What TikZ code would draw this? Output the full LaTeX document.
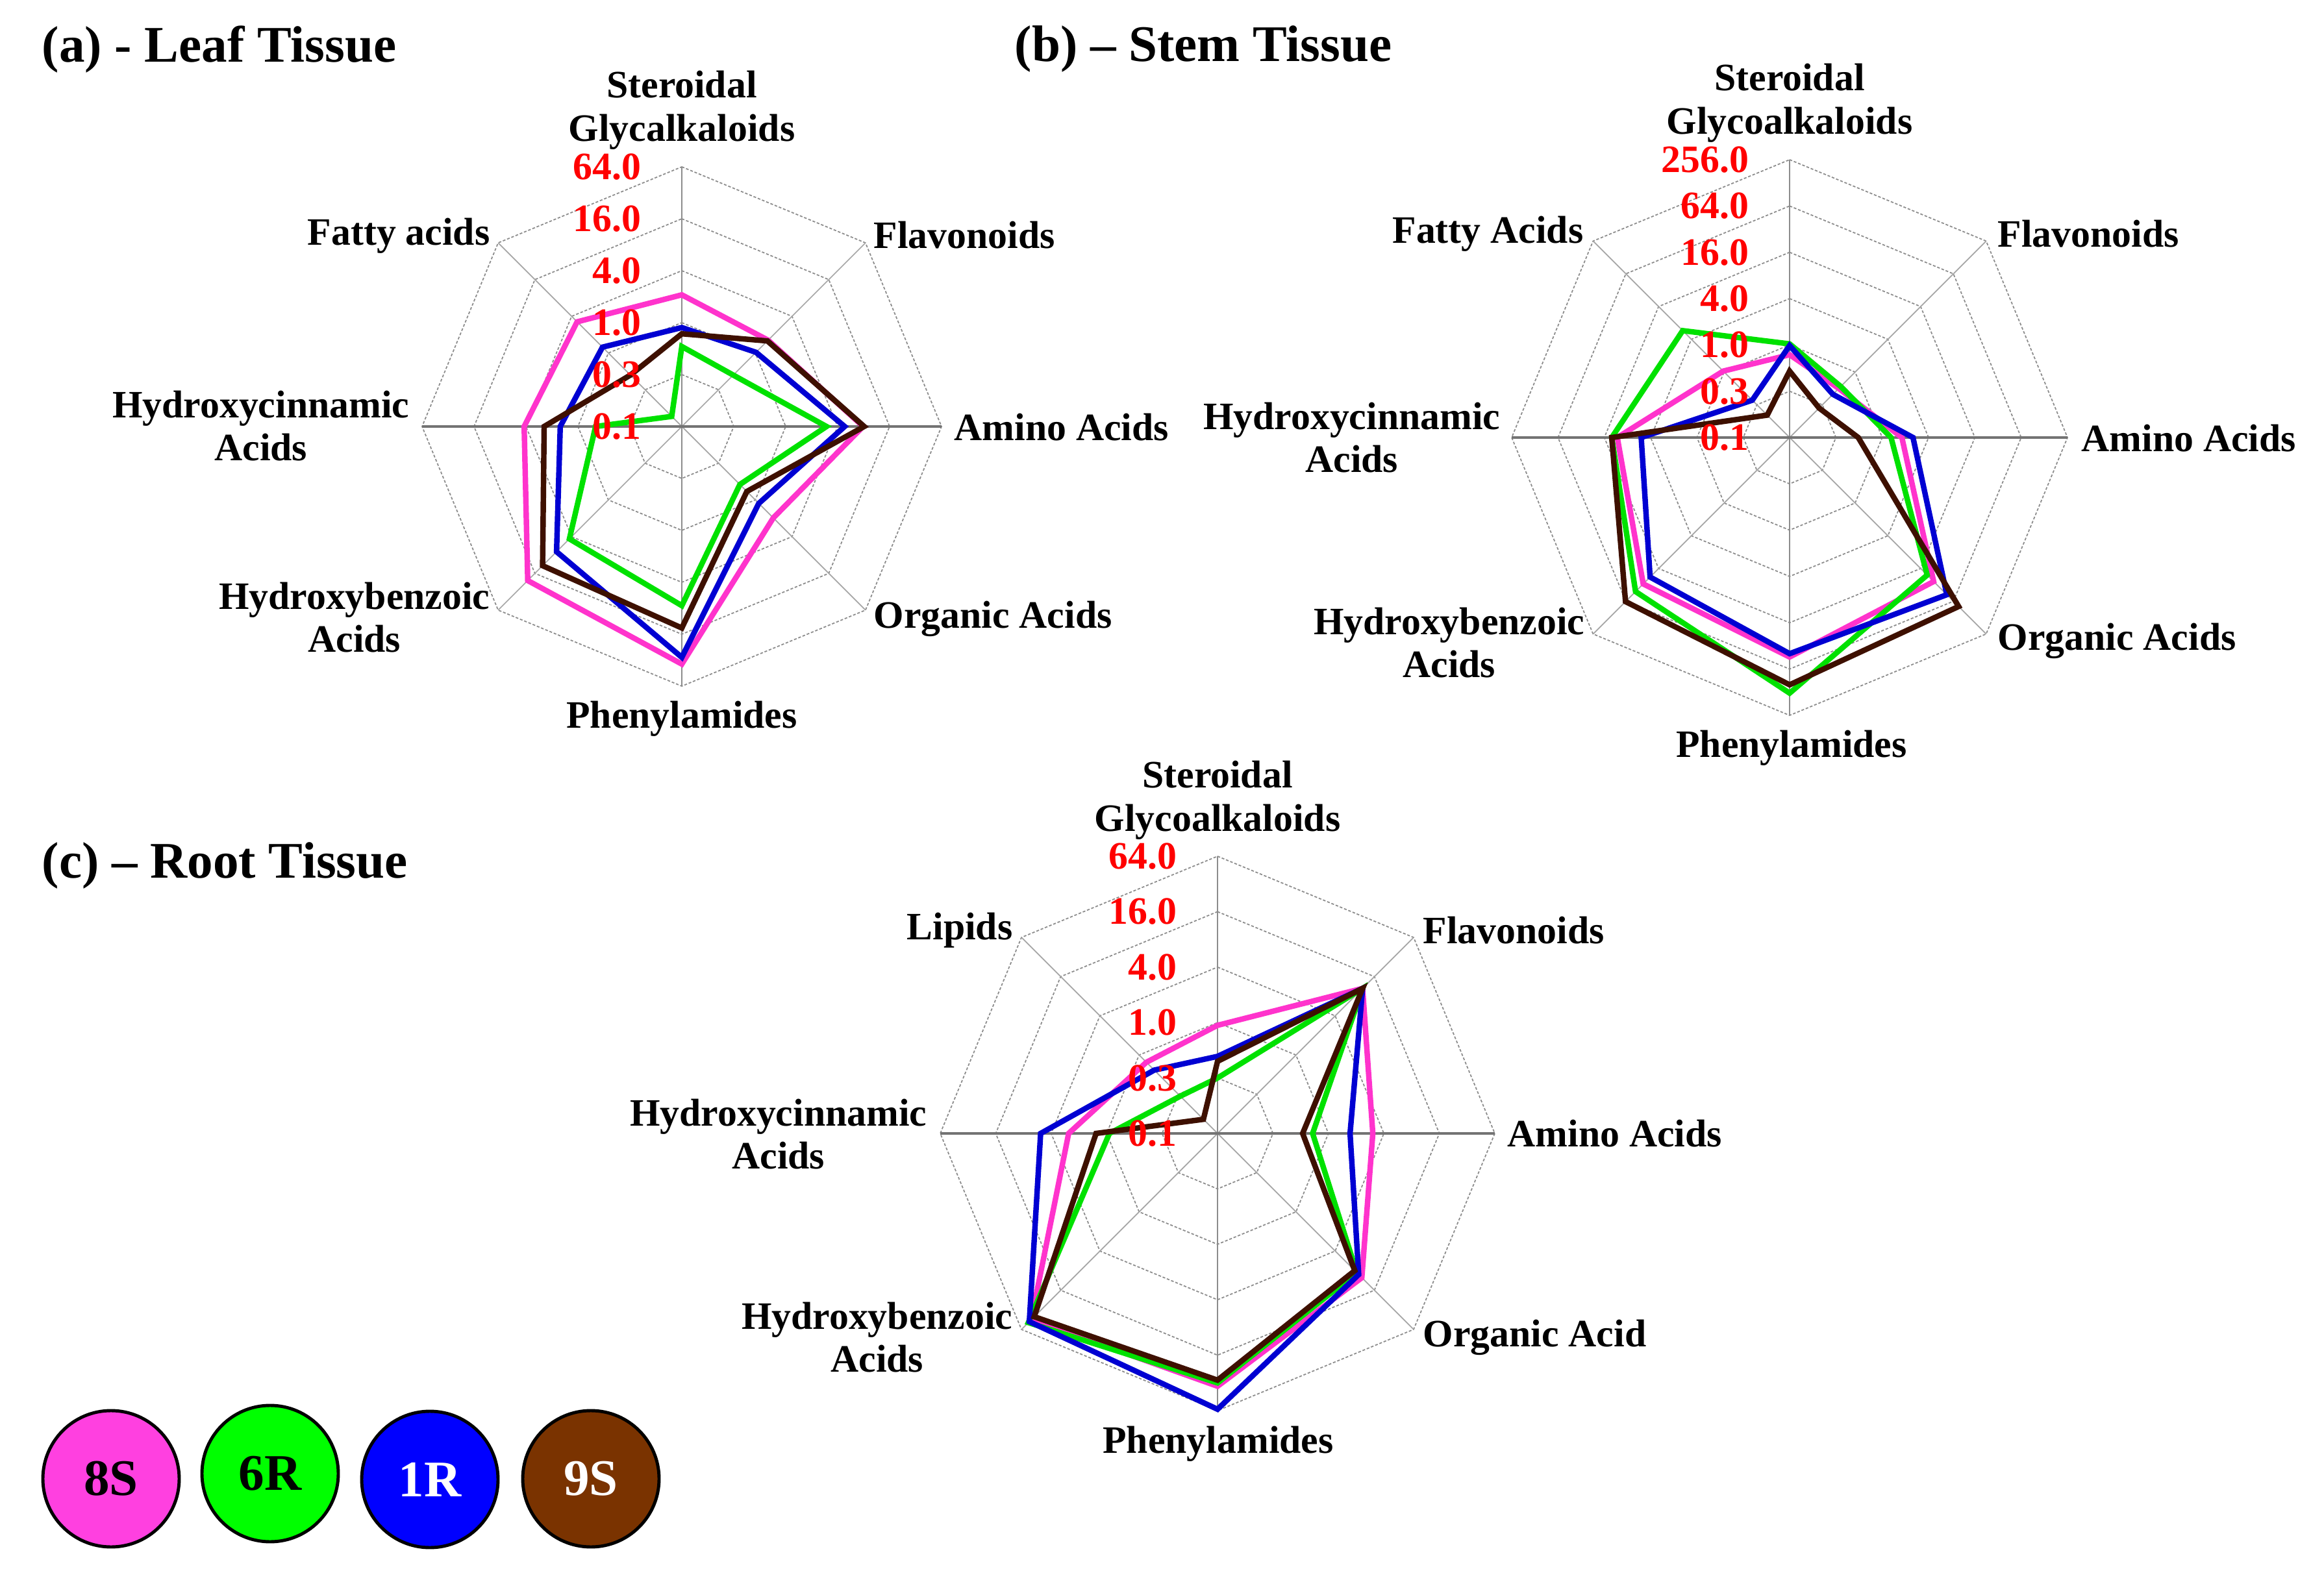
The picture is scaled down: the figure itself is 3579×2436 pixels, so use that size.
\documentclass[tikz,border=0pt]{standalone}
\usepackage{fontspec}
\setmainfont{Liberation Serif}
\definecolor{c8S}{RGB}{255,51,204}
\definecolor{c6R}{RGB}{0,225,0}
\definecolor{c1R}{RGB}{0,0,210}
\definecolor{c9S}{RGB}{62,16,0}
\definecolor{f8S}{RGB}{255,64,224}
\definecolor{f6R}{RGB}{0,255,0}
\definecolor{f1R}{RGB}{0,0,255}
\definecolor{f9S}{RGB}{122,51,0}
\newcommand{\radargrid}[2]{%
  \foreach \i in {1,...,#2}{%
    \draw[ring] (90:{#1*\i/#2}) \foreach \k in {1,...,7}{ -- ({90-45*\k}:{#1*\i/#2}) } -- cycle;
  }%
  \foreach \k in {1,3,5,7}{\draw[spoke] (0,0) -- ({90-45*\k}:#1);}%
  \draw[vaxis] (0,-#1) -- (0,#1);
  \draw[haxis] (-#1,0) -- (#1,0);
}
\newcommand{\radarnums}[4]{% prefix, R, rings, labels
  \foreach \t [count=\i from 0] in {#4}{\node[num] (#1-\i) at (-62,{#2*\i/#3}) {\t};}%
}
\newcommand{\radarline}[4]{% prefix, style, R, values
  \foreach \v [count=\k from 0] in {#4}{\coordinate (#1-\k) at ({90-45*\k}:{#3*\v});}%
  \draw[#2] (#1-0) -- (#1-1) -- (#1-2) -- (#1-3) -- (#1-4) -- (#1-5) -- (#1-6) -- (#1-7) -- cycle;
}
\begin{document}
\begin{tikzpicture}[x=0.1mm,y=0.1mm,
  lbl/.style={font=\fontsize{17}{19}\selectfont\bfseries, inner sep=0pt, align=center},
  num/.style={font=\fontsize{17}{19}\selectfont\bfseries, text=red, inner sep=0pt, anchor=east},
  ttl/.style={font=\fontsize{22.5}{26}\selectfont\bfseries, inner sep=0pt, anchor=west},
  ring/.style={draw=black!45, line width=0.5pt, dash pattern=on 1.2pt off 0.8pt},
  spoke/.style={draw=black!35, line width=0.5pt},
  vaxis/.style={draw=black!45, line width=0.8pt},
  haxis/.style={draw=black!55, line width=1.1pt},
  ser/.style={line width=2.4pt, line join=miter},
  s8S/.style={ser, draw=c8S},
  s6R/.style={ser, draw=c6R},
  s1R/.style={ser, draw=c1R},
  s9S/.style={ser, draw=c9S},
  leg/.style={circle, draw=black, line width=1.4pt, minimum size=21mm, inner sep=0pt,
              font=\fontsize{22.5}{26}\selectfont\bfseries},
]
\fill[white] (0,0) rectangle (3579,2436);
\useasboundingbox (0,0) rectangle (3579,2436);

% ---------------- (a) Leaf ----------------
\node[ttl] (ta) at (64,2360) {(a) - Leaf Tissue};
\begin{scope}[shift={(1050,1779)}]
  \radargrid{400}{5}
  \radarline{a8S}{s8S}{400}{0.507,0.470,0.698,0.498,0.915,0.839,0.607,0.570}
  \radarline{a6R}{s6R}{400}{0.308,0.280,0.557,0.316,0.690,0.612,0.332,0.055}
  \radarline{a1R}{s1R}{400}{0.381,0.404,0.627,0.419,0.889,0.682,0.468,0.432}
  \radarline{a9S}{s9S}{400}{0.357,0.466,0.702,0.354,0.776,0.758,0.530,0.280}
  \radarnums{an}{400}{5}{0.1,0.3,1.0,4.0,16.0,64.0}
\end{scope}
\node[lbl] (a-ster) at (1050,2266) {Steroidal\\Glycalkaloids};
\node[lbl,anchor=east] (a-fat) at (755,2073) {Fatty acids};
\node[lbl,anchor=west] (a-fla) at (1345,2074) {Flavonoids};
\node[lbl,anchor=west] (a-ami) at (1469,1778) {Amino Acids};
\node[lbl,anchor=west] (a-org) at (1345,1483) {Organic Acids};
\node[lbl] (a-phe) at (1050,1329) {Phenylamides};
\node[lbl,anchor=east] (a-hbz) at (755,1485) {Hydroxybenzoic\\Acids};
\node[lbl,anchor=east] (a-hcn) at (631,1780) {Hydroxycinnamic\\Acids};

% ---------------- (b) Stem ----------------
\node[ttl] (tb) at (1562,2360) {(b) – Stem Tissue};
\begin{scope}[shift={(2756,1762)}]
  \radargrid{428}{6}
  \radarline{b8S}{s8S}{428}{0.298,0.250,0.404,0.733,0.790,0.745,0.620,0.338}
  \radarline{b6R}{s6R}{428}{0.337,0.260,0.365,0.700,0.920,0.784,0.640,0.544}
  \radarline{b1R}{s1R}{428}{0.331,0.220,0.444,0.800,0.778,0.710,0.534,0.190}
  \radarline{b9S}{s9S}{428}{0.239,0.150,0.247,0.860,0.890,0.835,0.640,0.114}
  \radarnums{bn}{428}{6}{0.1,0.3,1.0,4.0,16.0,64.0,256.0}
\end{scope}
\node[lbl] (b-ster) at (2756,2277) {Steroidal\\Glycoalkaloids};
\node[lbl,anchor=east] (b-fat) at (2439,2076) {Fatty Acids};
\node[lbl,anchor=west] (b-fla) at (3076,2076) {Flavonoids};
\node[lbl,anchor=west] (b-ami) at (3205,1761) {Amino Acids};
\node[lbl,anchor=west] (b-org) at (3076,1449) {Organic Acids};
\node[lbl] (b-phe) at (2759,1284) {Phenylamides};
\node[lbl,anchor=east] (b-hbz) at (2441,1446) {Hydroxybenzoic\\Acids};
\node[lbl,anchor=east] (b-hcn) at (2311,1762) {Hydroxycinnamic\\Acids};

% ---------------- (c) Root ----------------
\node[ttl] (tc) at (64,1103) {(c) – Root Tissue};
\begin{scope}[shift={(1875,690)}]
  \radargrid{427}{5}
  \radarline{c8S}{s8S}{427}{0.390,0.740,0.560,0.736,0.912,0.950,0.537,0.363}
  \radarline{c6R}{s6R}{427}{0.200,0.740,0.343,0.710,0.900,0.965,0.390,0.190}
  \radarline{c1R}{s1R}{427}{0.278,0.740,0.478,0.720,0.995,0.960,0.638,0.323}
  \radarline{c9S}{s9S}{427}{0.260,0.740,0.307,0.700,0.890,0.935,0.438,0.072}
  \radarnums{cn}{427}{5}{0.1,0.3,1.0,4.0,16.0,64.0}
\end{scope}
\node[lbl] (c-ster) at (1875,1203) {Steroidal\\Glycoalkaloids};
\node[lbl,anchor=east] (c-lip) at (1560,1003) {Lipids};
\node[lbl,anchor=west] (c-fla) at (2191,1003) {Flavonoids};
\node[lbl,anchor=west] (c-ami) at (2321,690) {Amino Acids};
\node[lbl,anchor=west] (c-org) at (2191,376) {Organic Acid};
\node[lbl] (c-phe) at (1876,212) {Phenylamides};
\node[lbl,anchor=east] (c-hbz) at (1560,376) {Hydroxybenzoic\\Acids};
\node[lbl,anchor=east] (c-hcn) at (1428,689) {Hydroxycinnamic\\Acids};

% ---------------- legend ----------------
\node[leg, fill=f8S, text=black] (l8S) at (171,158) {8S};
\node[leg, fill=f6R, text=black] (l6R) at (416,166) {6R};
\node[leg, fill=f1R, text=white] (l1R) at (662,157) {1R};
\node[leg, fill=f9S, text=white] (l9S) at (910,158) {9S};
\end{tikzpicture}
\end{document}
